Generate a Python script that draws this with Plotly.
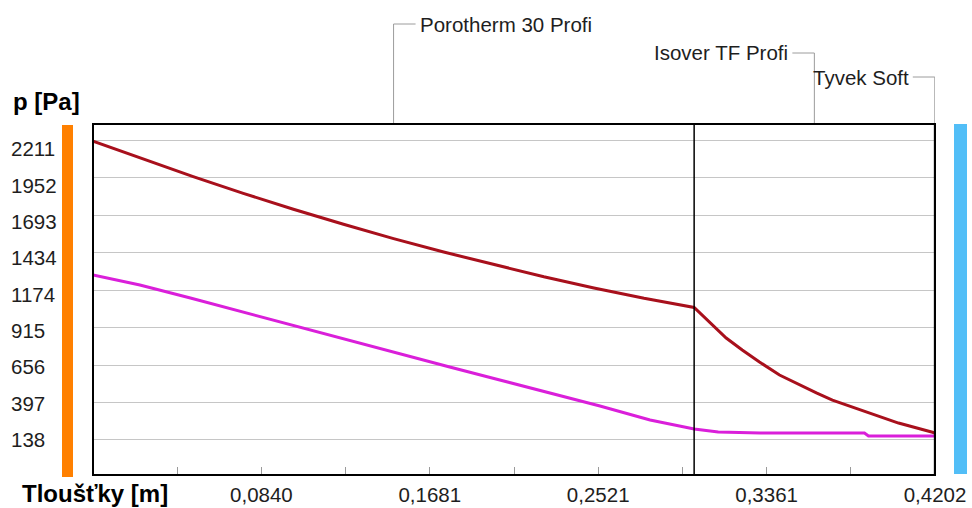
import plotly.graph_objects as go

# Wall layers (outer side on the right)
layer_names = ["Porotherm 30 Profi", "Isover TF Profi", "Tyvek Soft"]
layer_thickness = [0.30, 0.12, 0.0002]

# Saturated water vapour pressure through the wall [Pa]
x_psat = [0.0, 0.025, 0.050, 0.075, 0.100, 0.125, 0.150, 0.175, 0.200, 0.225,
          0.250, 0.275, 0.300, 0.3083, 0.316, 0.324, 0.3326, 0.3426, 0.3525,
          0.361, 0.369, 0.386, 0.402, 0.4185, 0.4202]
p_sat = [2204, 2079, 1958, 1843, 1733, 1629, 1530, 1437, 1349, 1266,
         1189, 1117, 1054, 947, 843, 760, 677, 587, 518,
         463, 414, 331, 255, 193, 186]

# Partial water vapour pressure through the wall [Pa]
x_p = [0.0, 0.0234, 0.0486, 0.153, 0.178, 0.203, 0.228, 0.253, 0.278, 0.300,
       0.312, 0.333, 0.385, 0.387, 0.4202]
p_part = [1278, 1209, 1119, 732, 642, 553, 463, 373, 276, 214,
          193, 186, 186, 166, 166]

y_ticks = [138, 397, 656, 915, 1174, 1434, 1693, 1952, 2211]
x_tick_labels = ["0,0840", "0,1681", "0,2521", "0,3361", "0,4202"]

# ---- page geometry -------------------------------------------------------
W, H = 972, 508
ML, MR, MT, MB = 10, 37, 124, 33
PLOT_LEFT = 93


def paper_x(px):
    return (px - ML) / (W - ML - MR)


def paper_y(py):
    return (H - MB - py) / (H - MT - MB)


FONT = "Liberation Sans, Arial, sans-serif"
TXT = "#1e1e1e"

total = sum(layer_thickness)
x_tickvals = [total * k / 10 for k in range(1, 11)]
x_ticktext = ["" if k % 2 else x_tick_labels[k // 2 - 1] for k in range(1, 11)]

fig = go.Figure()
fig.add_trace(go.Scatter(x=x_p, y=p_part, mode="lines",
                         line=dict(color="#DA1FDA", width=3), hoverinfo="skip"))
fig.add_trace(go.Scatter(x=x_psat, y=p_sat, mode="lines",
                         line=dict(color="#A8101C", width=3), hoverinfo="skip"))
# carrier for the label axis
fig.add_trace(go.Scatter(x=[None], y=[None], yaxis="y2", mode="lines",
                         hoverinfo="skip"))

shapes = []
annotations = []

# layer boundaries, leader lines and layer names
label_rows = [24, 53, 77]        # pixel rows of the leaders
label_side = [1, -1, -1]         # text to the right (+1) or left (-1)
start = 0.0
for i, (name, t) in enumerate(zip(layer_names, layer_thickness)):
    end = start + t
    mid = start + t / 2
    row = paper_y(label_rows[i])
    side = label_side[i]
    shapes.append(dict(type="line", xref="x", yref="paper", x0=mid, x1=mid,
                       y0=1, y1=row, line=dict(color="#9c9c9c", width=1)))
    shapes.append(dict(type="line", xref="x", yref="paper", xsizemode="pixel",
                       xanchor=mid, x0=0, x1=22 * side, y0=row, y1=row,
                       line=dict(color="#9c9c9c", width=1)))
    annotations.append(dict(text=name, xref="x", yref="paper", x=mid, y=row,
                            xshift=24 * side,
                            xanchor="left" if side > 0 else "right",
                            yanchor="middle", showarrow=False,
                            font=dict(family=FONT, size=20.5, color=TXT)))
    if i < len(layer_names) - 1:
        shapes.append(dict(type="line", xref="x", yref="paper", x0=end, x1=end,
                           y0=0, y1=1, line=dict(color="black", width=1.5)))
    start = end

# interior / exterior colour bars
shapes.append(dict(type="rect", xref="paper", yref="paper",
                   x0=paper_x(62), x1=paper_x(73), y0=paper_y(477), y1=paper_y(125),
                   fillcolor="#FF8000", line=dict(width=0), layer="below"))
shapes.append(dict(type="rect", xref="paper", yref="paper",
                   x0=paper_x(954), x1=paper_x(967), y0=paper_y(474), y1=paper_y(124),
                   fillcolor="#52BEF7", line=dict(width=0), layer="below"))

# plot frame
shapes.append(dict(type="rect", xref="x domain", yref="y domain",
                   x0=0, x1=1, y0=0, y1=1, line=dict(color="black", width=2),
                   layer="above"))

annotations.append(dict(text="<b>p [Pa]</b>", xref="paper", yref="paper",
                        x=paper_x(11), y=paper_y(101), xanchor="left",
                        yanchor="middle", showarrow=False,
                        font=dict(family=FONT, size=24, color="black")))
annotations.append(dict(text="<b>Tloušťky [m]</b>", xref="paper", yref="paper",
                        x=paper_x(21), y=paper_y(508), xanchor="left",
                        yanchor="bottom", showarrow=False, borderpad=0,
                        font=dict(family=FONT, size=24, color="black")))

fig.update_layout(
    width=W, height=H, autosize=False,
    margin=dict(l=ML, r=MR, t=MT, b=MB, pad=0),
    paper_bgcolor="white", plot_bgcolor="white",
    showlegend=False,
    font=dict(family=FONT, size=20.5, color=TXT),
    xaxis=dict(domain=[paper_x(PLOT_LEFT), 1], range=[0, total],
               automargin=False,
               showgrid=False, zeroline=False, showline=False,
               tickmode="array", tickvals=x_tickvals, ticktext=x_ticktext,
               ticks="inside", ticklen=8, tickwidth=1, tickcolor="#9a9a9a",
               ticklabelstandoff=5),
    yaxis=dict(range=[-104, 2322], automargin=False,
               showgrid=True, gridcolor="#C6C6C6",
               gridwidth=1, tickmode="array", tickvals=y_ticks,
               showticklabels=False, zeroline=False, showline=False, ticks=""),
    yaxis2=dict(overlaying="y", anchor="free", position=0, side="right",
                automargin=False,
                range=[-111, 2389], tickmode="array", tickvals=y_ticks,
                ticktext=[str(v) for v in y_ticks], showgrid=False,
                zeroline=False, showline=False, ticks=""),
    shapes=shapes,
    annotations=annotations,
)

fig.write_html("out.html")
